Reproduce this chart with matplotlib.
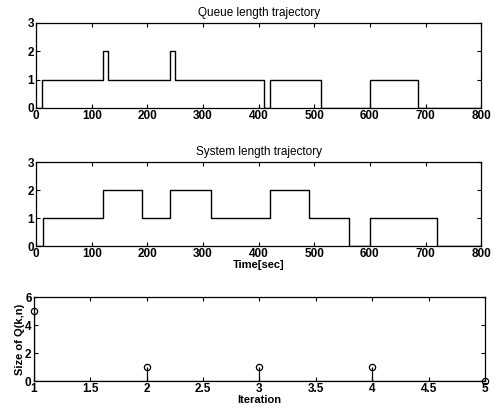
import matplotlib
matplotlib.use("Agg")
import matplotlib.pyplot as plt

# queue length trajectory (event times, values)
queue_t = [0, 10, 121, 130, 241, 250, 410, 420, 512, 600, 687, 800]
queue_n = [0, 1, 2, 1, 2, 1, 0, 1, 0, 1, 0, 0]

# system length trajectory
sys_t = [0, 12, 120, 190, 240, 315, 421, 491, 563, 600, 720, 800]
sys_n = [0, 1, 2, 1, 2, 1, 2, 1, 0, 1, 0, 0]

# size of Q(k,n) per iteration
iters = [1, 2, 3, 4, 5]
q_size = [5, 1, 1, 1, 0]

plt.rcParams['font.family'] = ['Liberation Sans', 'DejaVu Sans']


def matlab_style(ax):
    ax.tick_params(direction='in', top=True, right=True, length=3, width=0.8,
                   labelsize=8.5, pad=1.5)
    for lab in ax.get_xticklabels() + ax.get_yticklabels():
        lab.set_fontweight('bold')
    for s in ax.spines.values():
        s.set_linewidth(0.9)


fig = plt.figure(figsize=(4.95, 4.18), dpi=100)

ax1 = fig.add_axes([0.073, 0.742, 0.899, 0.203])
ax1.step(queue_t, queue_n, where='post', color='black', linewidth=1)
ax1.set_xlim(0, 800)
ax1.set_ylim(0, 3)
ax1.set_yticks([0, 1, 2, 3])
ax1.set_xticks(range(0, 801, 100))
ax1.set_title('Queue length trajectory', fontsize=8.5, pad=5)
matlab_style(ax1)

ax2 = fig.add_axes([0.073, 0.411, 0.899, 0.201])
ax2.step(sys_t, sys_n, where='post', color='black', linewidth=1)
ax2.set_xlim(0, 800)
ax2.set_ylim(0, 3)
ax2.set_yticks([0, 1, 2, 3])
ax2.set_xticks(range(0, 801, 100))
ax2.set_title('System length trajectory', fontsize=8.5, pad=5)
ax2.set_xlabel('Time[sec]', fontsize=8, fontweight='bold', labelpad=0)
matlab_style(ax2)

ax3 = fig.add_axes([0.068, 0.0885, 0.912, 0.2005])
markerline, stemlines, baseline = ax3.stem(iters, q_size, linefmt='k-',
                                           markerfmt='ko', basefmt='k-')
markerline.set_markerfacecolor('none')
markerline.set_markersize(4.5)
markerline.set_markeredgewidth(0.9)
stemlines.set_linewidth(0.9)
baseline.set_linewidth(0.9)
markerline.set_clip_on(False)
ax3.set_xlim(1, 5)
ax3.set_ylim(0, 6)
ax3.set_yticks([0, 2, 4, 6])
ax3.set_xticks([1, 1.5, 2, 2.5, 3, 3.5, 4, 4.5, 5])
ax3.set_xticklabels(['1', '1.5', '2', '2.5', '3', '3.5', '4', '4.5', '5'])
ax3.set_xlabel('Iteration', fontsize=8, fontweight='bold', labelpad=0)
ax3.set_ylabel('Size of Q(k,n)', fontsize=8, fontweight='bold', labelpad=0)
matlab_style(ax3)

fig.savefig('out.png', dpi=100)
